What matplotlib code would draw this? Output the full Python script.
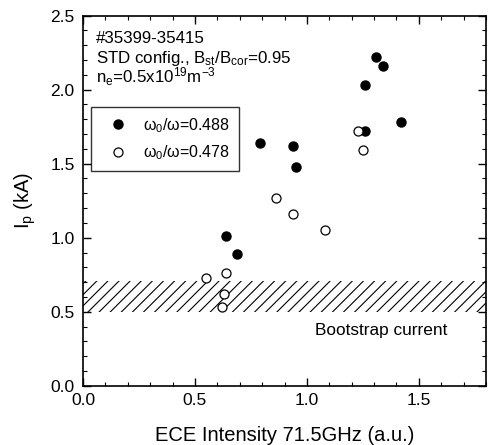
import matplotlib
matplotlib.use("Agg")
import matplotlib.pyplot as plt
from matplotlib.ticker import MultipleLocator

plt.rcParams['font.family'] = ['Liberation Sans', 'DejaVu Sans']
plt.rcParams['mathtext.default'] = 'regular'
plt.rcParams['hatch.linewidth'] = 0.8

# omega_0/omega = 0.488 (filled)
ece_488 = [0.79, 0.94, 0.95, 0.64, 0.69, 1.26, 1.42, 1.31, 1.34, 1.26]
ip_488 = [1.64, 1.62, 1.48, 1.01, 0.89, 1.72, 1.78, 2.22, 2.16, 2.03]

# omega_0/omega = 0.478 (open)
ece_478 = [0.55, 0.64, 0.63, 0.62, 0.86, 0.94, 1.08, 1.23, 1.25]
ip_478 = [0.73, 0.76, 0.62, 0.53, 1.27, 1.16, 1.05, 1.72, 1.59]

# bootstrap current band
boot_lo, boot_hi = 0.5, 0.71

fig = plt.figure(figsize=(4.88, 4.45), dpi=100)
ax = fig.add_axes([0.170, 0.133, 0.826, 0.832])

ax.fill_between([0, 1.8], boot_lo, boot_hi, facecolor='none', edgecolor='black',
                hatch='///', linewidth=0)

ax.plot(ece_488, ip_488, 'o', color='black', markersize=6.5, label=r'$\omega_0/\omega$=0.488')
ax.plot(ece_478, ip_478, 'o', markerfacecolor='white', markeredgecolor='black',
        markeredgewidth=0.9, markersize=6.5, label=r'$\omega_0/\omega$=0.478')

ax.set_xlim(0, 1.8)
ax.set_ylim(0, 2.5)
ax.xaxis.set_major_locator(MultipleLocator(0.5))
ax.xaxis.set_minor_locator(MultipleLocator(0.1))
ax.yaxis.set_major_locator(MultipleLocator(0.5))
ax.yaxis.set_minor_locator(MultipleLocator(0.1))
ax.xaxis.set_major_formatter(plt.FormatStrFormatter('%.1f'))
ax.yaxis.set_major_formatter(plt.FormatStrFormatter('%.1f'))
ax.tick_params(which='both', direction='in', top=True, right=True, labelsize=12.5)
ax.tick_params(which='major', length=6, width=1)
ax.tick_params(which='minor', length=3, width=0.8)
ax.tick_params(axis='x', pad=5)
ax.tick_params(axis='y', pad=6)
for s in ax.spines.values():
    s.set_linewidth(1.2)

ax.set_xlabel('ECE Intensity 71.5GHz (a.u.)', fontsize=14.5, labelpad=13)
ax.set_ylabel('I$_p$ (kA)', fontsize=14.5, labelpad=9)

ax.text(0.033, 0.926, '#35399-35415', transform=ax.transAxes, fontsize=12.2, va='baseline')
ax.text(0.033, 0.872, 'STD config., B$_{st}$/B$_{cor}$=0.95', transform=ax.transAxes,
        fontsize=12.2, va='baseline')
ax.text(0.033, 0.818, 'n$_e$=0.5x10$^{19}$m$^{-3}$', transform=ax.transAxes,
        fontsize=12.2, va='baseline')
ax.text(0.575, 0.137, 'Bootstrap current', transform=ax.transAxes, fontsize=12.4,
        va='baseline')

leg = ax.legend(loc='upper left', bbox_to_anchor=(0.02, 0.753), fontsize=11.5,
                frameon=True, fancybox=False, edgecolor='black', handletextpad=0.4,
                borderpad=0.55, labelspacing=0.55, handlelength=2.3, borderaxespad=0)
leg.get_frame().set_linewidth(1.0)

fig.savefig('out.png', dpi=100)
